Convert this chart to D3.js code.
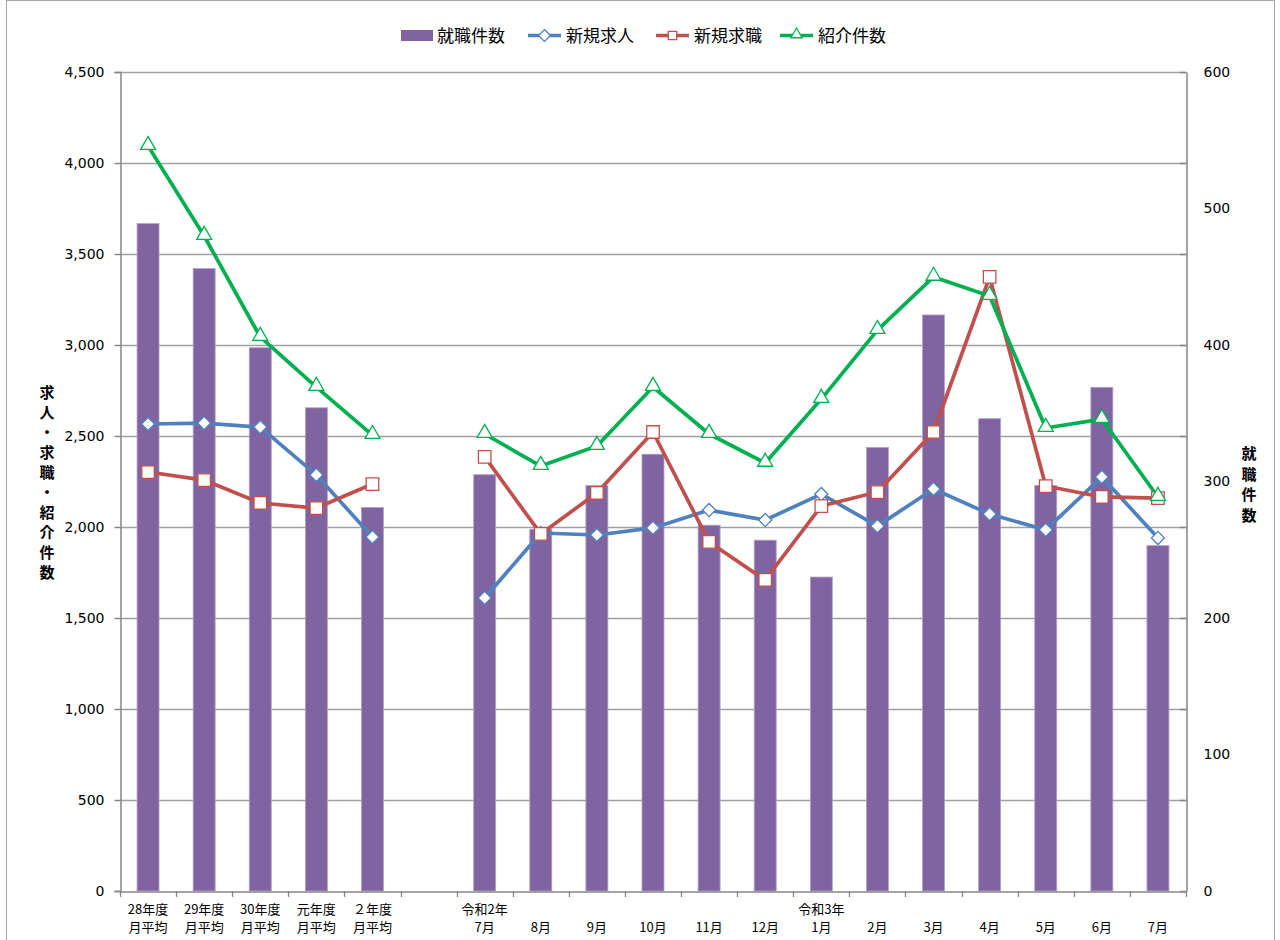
<!DOCTYPE html>
<html>
<head>
<meta charset="utf-8">
<script src="https://cdn.jsdelivr.net/npm/d3@7"></script>
<style>
  body { margin: 0; background: #fff; }
  svg { display: block; }
</style>
</head>
<body>
<svg id="chart"></svg>
<script>
// categories (blank slot between annual averages and months)
var categories = [
	["28年度", "月平均"], ["29年度", "月平均"], ["30年度", "月平均"], ["元年度", "月平均"], ["２年度", "月平均"],
	["", ""],
	["令和2年", "7月"], ["", "8月"], ["", "9月"], ["", "10月"], ["", "11月"], ["", "12月"],
	["令和3年", "1月"], ["", "2月"], ["", "3月"], ["", "4月"], ["", "5月"], ["", "6月"], ["", "7月"]
]

// 就職件数 (right axis)
var shushoku = [489, 456, 398, 354, 281, null, 305, 265, 297, 320, 268, 257, 230, 325, 422, 346, 297, 369, 253]
// 新規求人
var kyujin = [2566, 2571, 2549, 2286, 1945, null, 1610, 1967, 1956, 1995, 2093, 2038, 2181, 2005, 2209, 2071, 1984, 2275, 1940]
// 新規求職
var kyushoku = [2302, 2258, 2132, 2104, 2236, null, 2385, 1962, 2187, 2522, 1918, 1709, 2115, 2192, 2522, 3374, 2225, 2165, 2159]
// 紹介件数
var shokai = [4093, 3599, 3044, 2769, 2505, null, 2511, 2335, 2445, 2769, 2511, 2352, 2703, 3082, 3374, 3269, 2544, 2593, 2165]

var leftTicks = [0, 500, 1000, 1500, 2000, 2500, 3000, 3500, 4000, 4500]
var rightTicks = [0, 100, 200, 300, 400, 500, 600]

var width = 1280
var height = 940
var margin = ({top: 72, right: 94, bottom: 49, left: 120})

var numFont = "DejaVu Sans, Verdana, sans-serif"
var jpFont = "'Noto Sans CJK JP', sans-serif"

var svg = d3.select("#chart")
	.attr("width", width)
	.attr("height", height)
	.attr("viewBox", [0, 0, width, height])

// outer chart border
svg.append("rect")
	.attr("x", 6.5).attr("y", 0.5)
	.attr("width", 1268).attr("height", 980)
	.attr("fill", "none")
	.attr("stroke", "#a6a6a6")
	.attr("stroke-width", 1)

var x = d3.scaleBand()
	.domain(d3.range(categories.length))
	.range([margin.left, width - margin.right])
	.padding(0)

var yL = d3.scaleLinear()
	.domain([0, 4500])
	.range([height - margin.bottom, margin.top])

var yR = d3.scaleLinear()
	.domain([0, 600])
	.range([height - margin.bottom, margin.top])

var cx = i => x(i) + x.bandwidth() / 2

// gridlines
svg.append("g")
	.selectAll("line")
	.data(leftTicks.slice(1))
	.join("line")
	.attr("x1", margin.left).attr("x2", width - margin.right)
	.attr("y1", d => Math.round(yL(d)) + 0.5).attr("y2", d => Math.round(yL(d)) + 0.5)
	.attr("stroke", "#a0a0a0")
	.attr("stroke-width", 1.3)

// bars
svg.append("g")
	.selectAll("rect")
	.data(shushoku.map((v, i) => ({v: v, i: i})).filter(d => d.v != null))
	.join("rect")
	.attr("x", d => cx(d.i) - 11)
	.attr("width", 22)
	.attr("y", d => yR(d.v))
	.attr("height", d => yR(0) - yR(d.v))
	.attr("fill", "#8064a2")
	.attr("stroke", "#b3a2c7")
	.attr("stroke-width", 0.8)

// left axis
var yAxisL = g => g
	.attr("transform", `translate(${margin.left + 0.5},0)`)
	.call(d3.axisLeft(yL).tickValues(leftTicks).tickFormat(d3.format(",")).tickSize(6).tickPadding(10))
	.call(g => g.selectAll(".domain, line").attr("stroke", "#868686").attr("stroke-width", 1.5))
	.call(g => g.selectAll("text").attr("font-family", numFont).attr("font-size", 14).attr("fill", "#000"))

// right axis: labels on own scale, tick marks on the left grid positions
var yAxisR = g => g
	.attr("transform", `translate(${width - margin.right + 0.5},0)`)
	.call(d3.axisRight(yR).tickValues(rightTicks).tickSize(0).tickPadding(17))
	.call(g => g.selectAll(".domain").attr("stroke", "#868686").attr("stroke-width", 1.5))
	.call(g => g.selectAll("text").attr("font-family", numFont).attr("font-size", 14).attr("fill", "#000"))

svg.append("g").call(yAxisL)
svg.append("g").call(yAxisR)

svg.append("g")
	.selectAll("line")
	.data(leftTicks)
	.join("line")
	.attr("x1", width - margin.right - 6).attr("x2", width - margin.right + 0.5)
	.attr("y1", d => Math.round(yL(d)) + 0.5).attr("y2", d => Math.round(yL(d)) + 0.5)
	.attr("stroke", "#868686")
	.attr("stroke-width", 1.5)

// x axis
var xAxis = g => g
	.attr("transform", `translate(0,${height - margin.bottom + 0.5})`)
	.call(d3.axisBottom(x).tickSize(0).tickFormat(""))
	.call(g => g.select(".domain").attr("stroke", "#868686").attr("stroke-width", 1.5))

svg.append("g").call(xAxis)

svg.append("g")
	.selectAll("line")
	.data(d3.range(categories.length + 1))
	.join("line")
	.attr("x1", i => Math.round(margin.left + i * x.step()) + 0.5)
	.attr("x2", i => Math.round(margin.left + i * x.step()) + 0.5)
	.attr("y1", height - margin.bottom)
	.attr("y2", height - margin.bottom + 6)
	.attr("stroke", "#868686")
	.attr("stroke-width", 1.3)

var xlab = svg.append("g")
	.attr("font-family", jpFont)
	.attr("font-size", 13)
	.attr("text-anchor", "middle")
	.attr("fill", "#000")

categories.forEach((c, i) => {
	if (c[0]) xlab.append("text").attr("x", cx(i)).attr("y", 914).text(c[0])
	if (c[1]) xlab.append("text").attr("x", cx(i)).attr("y", 932).text(c[1])
})

// lines
var lineFunction = yScale => d3.line()
	.defined(d => d.v != null)
	.x(d => cx(d.i))
	.y(d => yScale(d.v))

var series = [
	{name: "新規求人", values: kyujin, color: "#4f81bd", marker: "diamond"},
	{name: "新規求職", values: kyushoku, color: "#c0504d", marker: "square"},
	{name: "紹介件数", values: shokai, color: "#00b050", marker: "triangle"}
]

var markerPath = {
	diamond: d3.symbol(d3.symbolDiamond2, 110),
	square: d3.symbol(d3.symbolSquare2, 200),
	triangle: d3.symbol(d3.symbolTriangle2, 160)
}

series.forEach(s => {
	var pts = s.values.map((v, i) => ({v: v, i: i}))
	svg.append("path")
		.attr("fill", "none")
		.attr("stroke", s.color)
		.attr("stroke-width", 3.7)
		.attr("stroke-linejoin", "round")
		.attr("d", lineFunction(yL)(pts))
})

series.forEach(s => {
	var pts = s.values.map((v, i) => ({v: v, i: i})).filter(d => d.v != null)
	svg.append("g")
		.selectAll("path")
		.data(pts)
		.join("path")
		.attr("transform", d => `translate(${cx(d.i)},${yL(d.v) + (s.marker === "triangle" ? -1 : 0)})`)
		.attr("d", markerPath[s.marker])
		.attr("fill", "#fff")
		.attr("stroke", s.color)
		.attr("stroke-width", 1.3)
})

// axis titles (vertical)
var leftTitle = "求人・求職・紹介件数".split("")
svg.append("g")
	.attr("font-family", jpFont)
	.attr("font-size", 15)
	.attr("font-weight", "bold")
	.attr("text-anchor", "middle")
	.selectAll("text")
	.data(leftTitle)
	.join("text")
	.attr("x", 47)
	.attr("y", (d, i) => 398 + i * 20)
	.text(d => d)

var rightTitle = "就職件数".split("")
svg.append("g")
	.attr("font-family", jpFont)
	.attr("font-size", 15)
	.attr("font-weight", "bold")
	.attr("text-anchor", "middle")
	.selectAll("text")
	.data(rightTitle)
	.join("text")
	.attr("x", 1249)
	.attr("y", (d, i) => 459 + i * 20.5)
	.text(d => d)

// legend
var legend = svg.append("g")
	.attr("font-family", jpFont)
	.attr("font-size", 17)

legend.append("rect")
	.attr("x", 401).attr("y", 30).attr("width", 32).attr("height", 11)
	.attr("fill", "#8064a2")
legend.append("text").attr("x", 437).attr("y", 42).text("就職件数")

var legendX = [528, 656, 780]
series.forEach((s, k) => {
	var lx = legendX[k]
	legend.append("line")
		.attr("x1", lx).attr("x2", lx + 33)
		.attr("y1", 35.5).attr("y2", 35.5)
		.attr("stroke", s.color).attr("stroke-width", 3.5)
	legend.append("path")
		.attr("transform", `translate(${lx + 16.5},${35.5 + (s.marker === "triangle" ? -1 : 0)})`)
		.attr("d", d3.symbol(markerPath[s.marker].type(), 90))
		.attr("fill", "#fff")
		.attr("stroke", s.color)
		.attr("stroke-width", 1.3)
	legend.append("text").attr("x", lx + 38).attr("y", 42).text(s.name)
})
</script>
</body>
</html>
